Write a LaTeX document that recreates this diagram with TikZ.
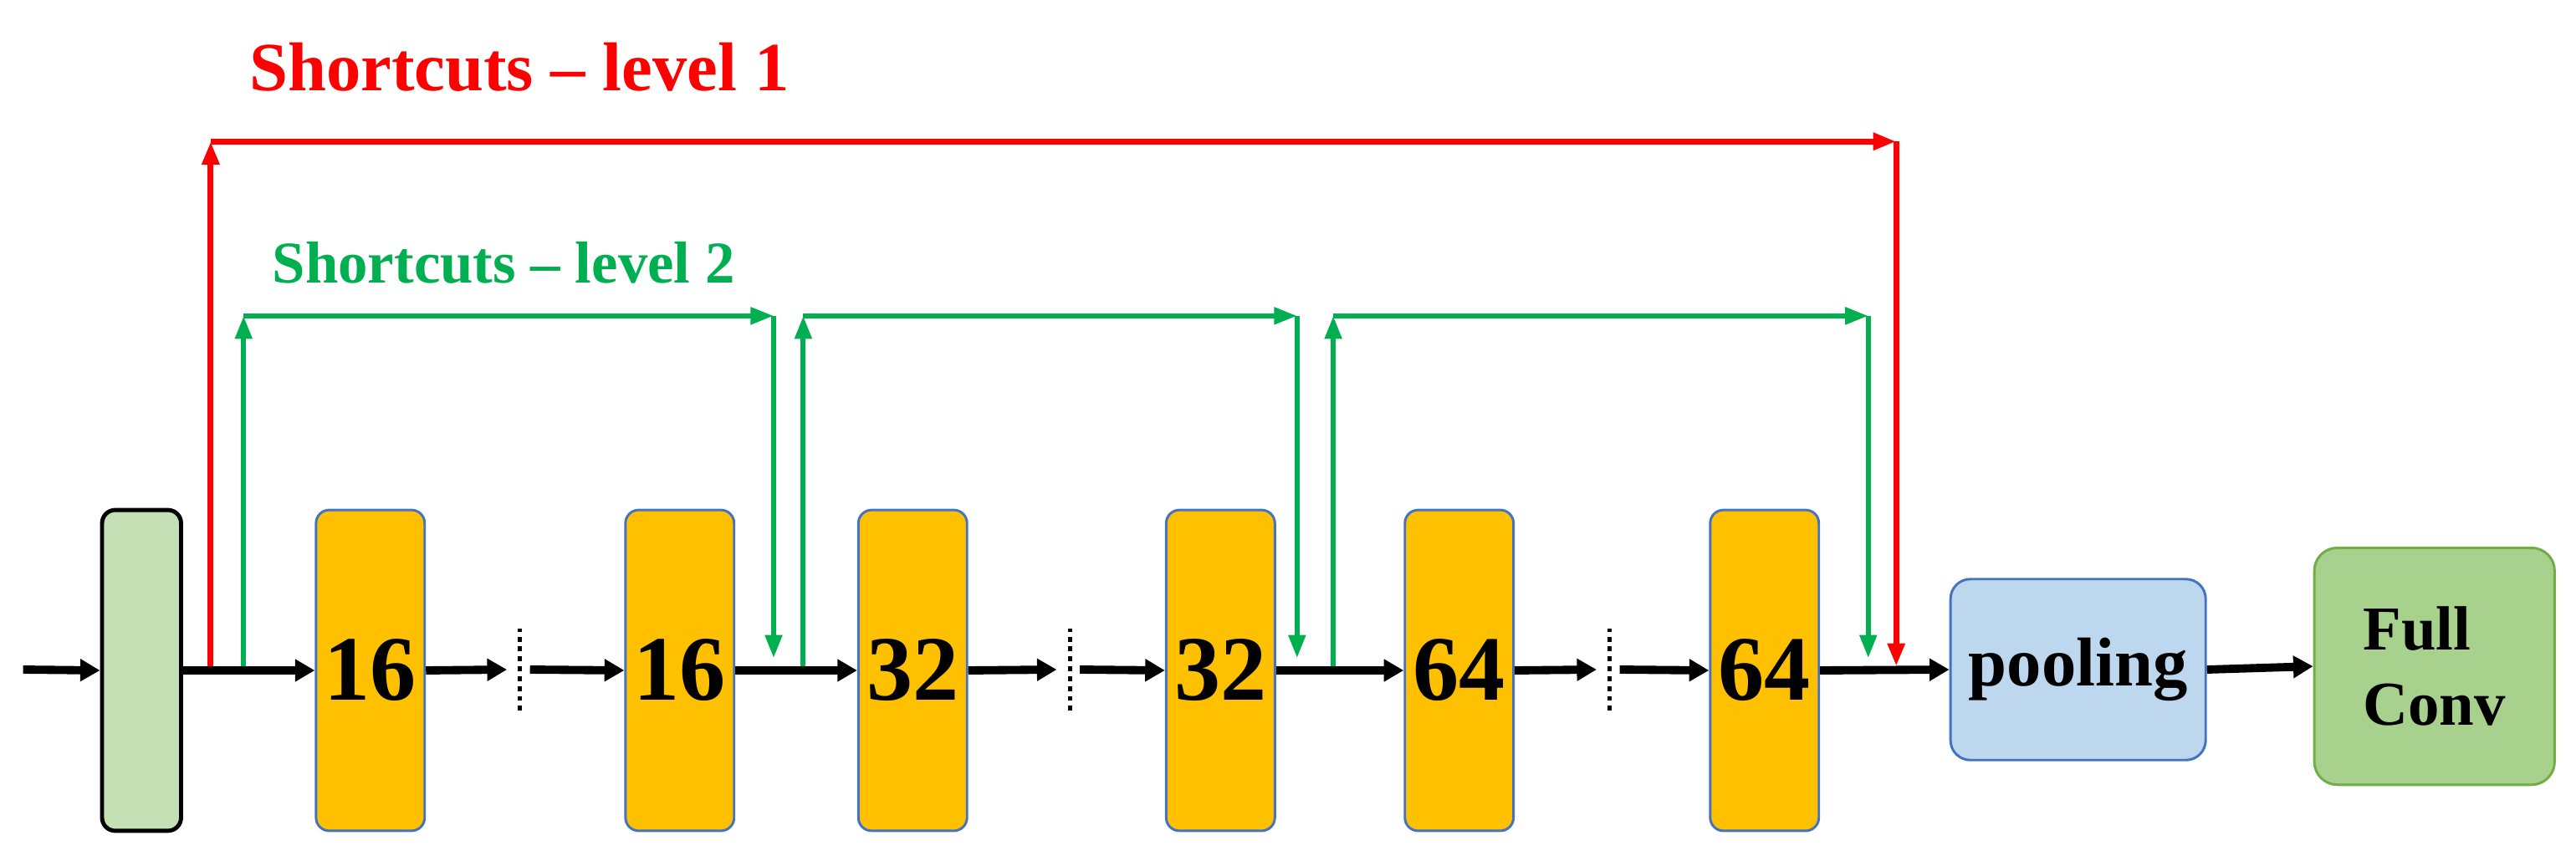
\documentclass[tikz,border=0pt]{standalone}
\usepackage{fontspec}
\setmainfont{Liberation Serif}
\usetikzlibrary{arrows.meta}
\definecolor{org}{HTML}{FFC000}
\definecolor{bdr}{HTML}{4472C4}
\definecolor{lg}{HTML}{C5E0B4}
\definecolor{pb}{HTML}{BDD7EE}
\definecolor{fg}{HTML}{A9D18E}
\definecolor{fgb}{HTML}{70AD47}
\definecolor{gr}{HTML}{00B050}
\begin{document}
\begin{tikzpicture}[x=1pt,y=-1pt,
 blk/.style={draw=bdr,line width=1.5pt,fill=org,rounded corners=8pt,minimum width=66pt,minimum height=195pt,inner sep=0pt,font=\fontsize{56}{60}\selectfont\bfseries},
 flow/.style={-{Triangle[length=12pt,width=13pt]},line width=5pt},
 sred/.style={-{Triangle[length=14pt,width=10pt]},draw=red,line width=3.5pt},
 sgrn/.style={-{Triangle[length=14pt,width=10pt]},draw=gr,line width=3pt},
 dsh/.style={dashed,line width=2.5pt}]
\useasboundingbox (0,0) rectangle (1565,523);
\node[draw=black,line width=2.5pt,fill=lg,rounded corners=8pt,minimum width=48pt,minimum height=195pt] (in) at (86,407.5) {};
\node[blk] (a1) at (225,407.5) {16};
\node[blk] (a2) at (413,407.5) {16};
\node[blk] (b1) at (554.5,407.5) {32};
\node[blk] (b2) at (741.5,407.5) {32};
\node[blk] (c1) at (886.5,407.5) {64};
\node[blk] (c2) at (1072,407.5) {64};
\node[draw=bdr,line width=1.5pt,fill=pb,rounded corners=12pt,minimum width=155pt,minimum height=110pt,font=\fontsize{42}{46}\selectfont\bfseries] (pool) at (1262.5,407) {pooling};
\node[draw=fgb,line width=1.5pt,fill=fg,rounded corners=14pt,minimum width=146pt,minimum height=144pt,align=left,font=\fontsize{38}{46}\selectfont\bfseries] (fc) at (1479,405) {Full\\Conv};
\node[text=red,font=\fontsize{42}{46}\selectfont\bfseries,anchor=base west] (t1) at (148,55) {Shortcuts -- level 1};
\node[text=gr,font=\fontsize{36}{40}\selectfont\bfseries,anchor=base west] (t2) at (162,172) {Shortcuts -- level 2};
% dashed separators
\coordinate (d1) at (316,407); \coordinate (d2) at (650,407); \coordinate (d3) at (978,407);
\foreach \d in {d1,d2,d3} \draw[dsh] ([yshift=-25pt]\d) -- ([yshift=25pt]\d);
% main flow
\coordinate (s) at (14,407);
\draw[flow] (s) -- (in.west);
\draw[flow] (in.east) -- (a1.west);
\draw[flow] (a1.east) -- ([xshift=-8pt]d1);
\draw[flow] ([xshift=6pt]d1) -- (a2.west);
\draw[flow] (a2.east) -- (b1.west);
\draw[flow] (b1.east) -- ([xshift=-8pt]d2);
\draw[flow] ([xshift=6pt]d2) -- (b2.west);
\draw[flow] (b2.east) -- (c1.west);
\draw[flow] (c1.east) -- ([xshift=-8pt]d3);
\draw[flow] ([xshift=6pt]d3) -- (c2.west);
\draw[flow] (c2.east) -- (pool.west);
\draw[flow] (pool.east) -- (fc.west);
% red shortcut
\coordinate (r0) at (128,405); \coordinate (r1) at (128,86); \coordinate (r2) at (1152,86); \coordinate (r3) at (1152,405);
\draw[sred] (r0) -- (r1);
\draw[sred] (r1) -- (r2);
\draw[sred] (r2) -- (r3);
% green shortcuts
\foreach \xa/\xb/\n in {148/470/1,488/788/2,810/1135/3}{
 \coordinate (g0\n) at (\xa,405); \coordinate (g1\n) at (\xa,192);
 \coordinate (g2\n) at (\xb,192); \coordinate (g3\n) at (\xb,400);
 \draw[sgrn] (g0\n) -- (g1\n);
 \draw[sgrn] (g1\n) -- (g2\n);
 \draw[sgrn] (g2\n) -- (g3\n);
}
\end{tikzpicture}
\end{document}
